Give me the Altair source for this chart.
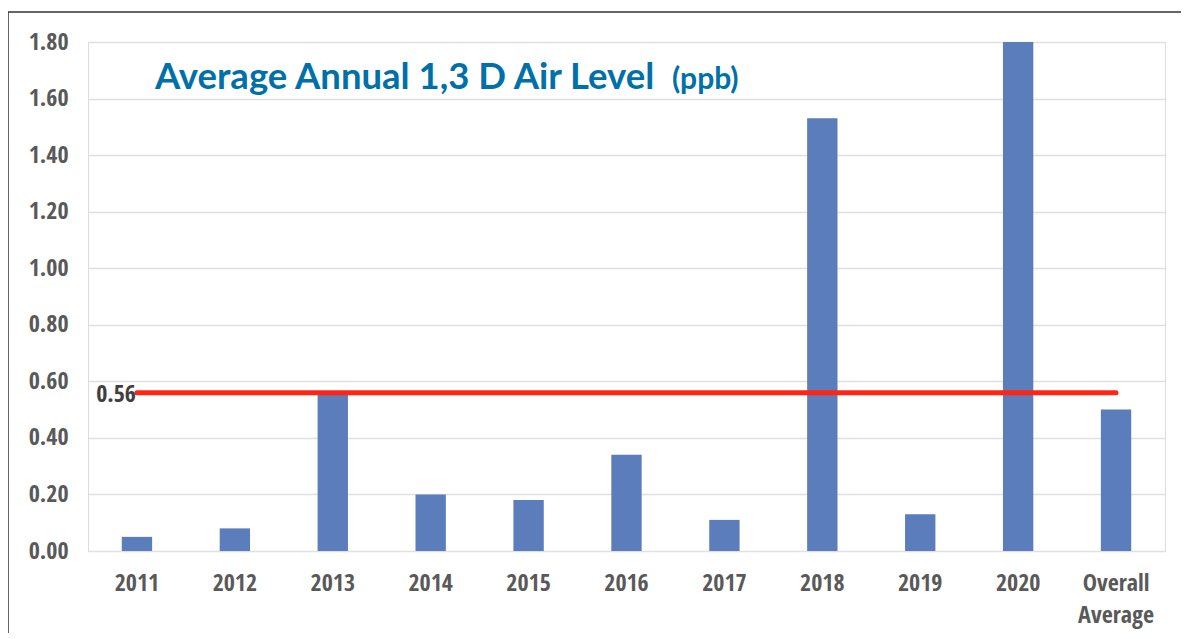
import altair as alt
import pandas as pd

categories = ["2011", "2012", "2013", "2014", "2015", "2016", "2017", "2018", "2019", "2020", "Overall Average"]
levels = [0.05, 0.08, 0.56, 0.20, 0.18, 0.34, 0.11, 1.53, 0.13, 1.80, 0.50]
y_ticks = [0.0, 0.2, 0.4, 0.6, 0.8, 1.0, 1.2, 1.4, 1.6, 1.8]
ref_value = 0.56
ref_start = "2011"
ref_end = "Overall Average"
title_main = "Average Annual 1,3 D Air Level"
title_unit = "(ppb)"

W, H = 1077, 509
LABEL_FONT = "Open Sans Condensed"

df = pd.DataFrame({"cat": categories, "val": levels})
ref_df = pd.DataFrame({"start": [ref_start], "end": [ref_end], "val": [ref_value],
                       "label": [f"{ref_value:.2f}"]})

x_scale = alt.Scale(domain=categories, paddingInner=0.69, paddingOuter=0.345)
y_scale = alt.Scale(domain=[0, 1.8], nice=False)

bars = alt.Chart(df).mark_bar(color="#5b7dbb").encode(
    x=alt.X("cat:N", scale=x_scale, sort=categories, title=None,
            axis=alt.Axis(labelAngle=0, domain=False, ticks=False, labelPadding=20,
                          labelFont=LABEL_FONT, labelFontSize=24, labelFontWeight="bold",
                          labelColor="#595959", labelLineHeight=32,
                          labelExpr="datum.value == 'Overall Average' ? ['Overall', 'Average'] : datum.value")),
    y=alt.Y("val:Q", scale=y_scale, title=None,
            axis=alt.Axis(values=y_ticks, format=".2f", domain=False, ticks=False, labelPadding=20,
                          labelFont=LABEL_FONT, labelFontSize=24, labelFontWeight="bold",
                          labelColor="#595959", gridColor="#e0e0e0", gridWidth=1.5)),
)

rule = alt.Chart(ref_df).mark_rule(color="#ff2414", strokeWidth=5, strokeCap="round").encode(
    x=alt.X("start:N", scale=x_scale, sort=categories),
    x2="end:N",
    y=alt.Y("val:Q", scale=y_scale),
)

ref_label = alt.Chart(ref_df).mark_text(align="right", baseline="middle", dx=-1, dy=2,
                                        font=LABEL_FONT, fontSize=24, fontWeight="bold",
                                        color="#3f3f3f").encode(
    x=alt.X("start:N", scale=x_scale, sort=categories),
    y=alt.Y("val:Q", scale=y_scale),
    text="label:N",
)

title1 = alt.Chart(pd.DataFrame({"t": [title_main]})).mark_text(
    align="left", baseline="alphabetic", font="Lato", fontSize=36.5, fontWeight="bold",
    color="#0070a8").encode(x=alt.value(67), y=alt.value(47), text="t:N")

title2 = alt.Chart(pd.DataFrame({"t": [title_unit]})).mark_text(
    align="left", baseline="alphabetic", font="Lato", fontSize=30, fontWeight="bold",
    color="#0070a8").encode(x=alt.value(584), y=alt.value(47), text="t:N")

frame_top = alt.Chart(pd.DataFrame({"a": [0]})).mark_rule(color="#333333", strokeWidth=1.5).encode(
    x=alt.value(-80), x2=alt.value(W + 16), y=alt.value(-30))
frame_left = alt.Chart(pd.DataFrame({"a": [0]})).mark_rule(color="#333333", strokeWidth=1.5).encode(
    x=alt.value(-80), y=alt.value(-30), y2=alt.value(H + 82))

chart = alt.layer(bars, rule, ref_label, title1, title2, frame_top, frame_left).properties(
    width=W, height=H,
    autosize=alt.AutoSizeParams(type="none"),
    padding={"left": 80, "top": 34, "right": 16, "bottom": 82},
).configure_view(stroke=None).configure(background="white")

chart.save("out.html", embed_options={"renderer": "svg", "actions": False})
